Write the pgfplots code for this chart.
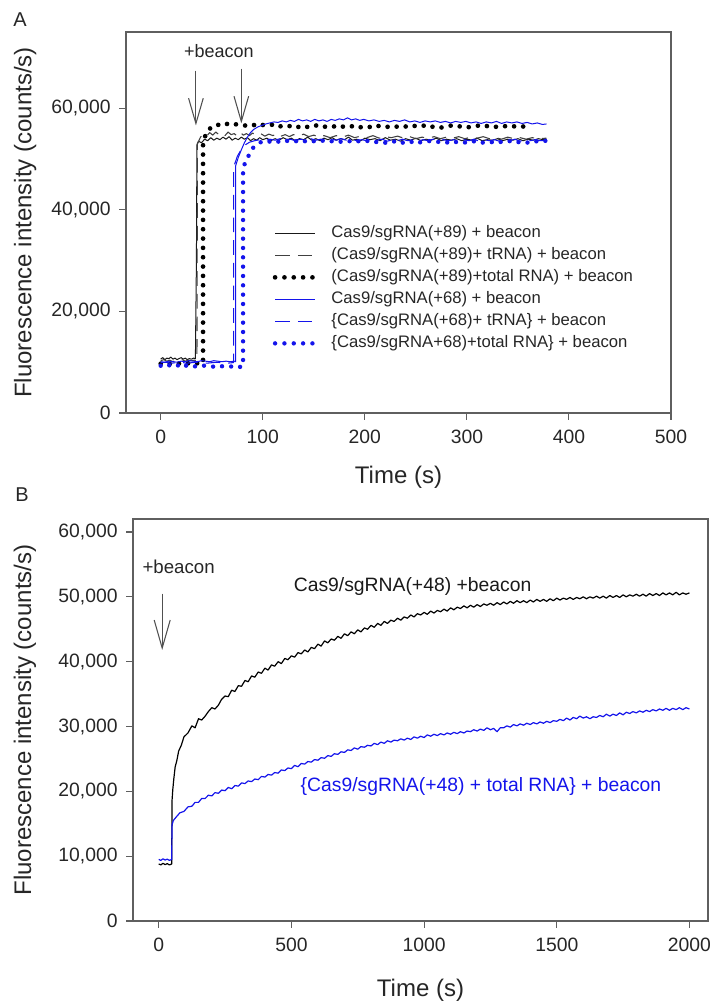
\documentclass[border=0pt]{standalone}
\usepackage{fontspec}
\setmainfont{Liberation Sans}
\usepackage{pgfplots}
\pgfplotsset{compat=1.18}
\usetikzlibrary{arrows.meta}
\definecolor{myblue}{RGB}{20,20,235}
\definecolor{axgray}{RGB}{95,95,95}
\definecolor{arrgray}{RGB}{80,80,80}
\pgfplotsset{
 panel/.style={
  scale only axis,
  axis line style={axgray, line width=0.9pt},
  tick align=outside,
  xtick pos=bottom, ytick pos=left,
  major tick length=5pt,
  tick style={axgray, line width=0.8pt},
  /pgf/number format/assume math mode=true,
  ticklabel style={font=\fontsize{14.5}{16}\selectfont, text=black!85},
  xticklabel style={yshift=-4pt},
  yticklabel style={xshift=-3pt},
  scaled ticks=false,
  label style={font=\fontsize{18}{20}\selectfont, text=black!85},
  every axis plot/.append style={line join=round},
 },
 bigdots/.style={line width=3.5pt, line cap=round, dash pattern=on 0pt off 7pt},
}
\begin{document}
\begin{tikzpicture}
\path[use as bounding box] (0,0) rectangle (537pt,-753.75pt);
\node[font=\fontsize{15}{17}\selectfont, text=black!85] at (20*0.75pt,-20*0.75pt) {A};
\node[font=\fontsize{15}{17}\selectfont, text=black!85] at (22*0.75pt,-495*0.75pt) {B};
% ---------------- Panel A ----------------
\begin{axis}[panel,
  at={(126*0.75pt,-413*0.75pt)}, anchor=south west,
  width=545*0.75pt, height=381*0.75pt,
  xmin=-34, xmax=500, ymin=0, ymax=75000,
  xtick={0,100,200,300,400,500},
  ytick={0,20000,40000,60000},
  yticklabel style={/pgf/number format/1000 sep={,}},
  xlabel={Time (s)}, ylabel={Fluorescence intensity (counts/s)},
  xlabel style={at={(axis description cs:0.5,-0.168)}, anchor=center},
  ylabel style={at={(axis description cs:-0.185,0.5)}, anchor=center},
  legend style={at={(axis cs:109.8,37000)}, anchor=north west, draw=none, fill=none,
    inner sep=0pt, outer sep=0pt,
    font=\fontsize{12.5}{14}\selectfont, row sep=4pt,
    nodes={inner sep=0pt, text height=9.5pt, text depth=3pt, text=black!85},
    /tikz/every odd column/.append style={column sep=10.5pt}},
  legend cell align=left,
  legend image code/.code={\draw[#1] (0pt,0pt) -- (30pt,0pt);},
]
\addplot[black!90, line width=0.75pt] coordinates {
(0,10600)(2,10900)(4,10500)(6,10800)(8,10700)(10,11000)(12,10600)(14,10800)(16,10500)(18,10700)(20,10900)(22,10600)(24,10800)(26,10500)(28,10700)(30,10600)(32,10800)(34,10700)(35,30000)(35.5,52800)(37,53500)(40,53200)(43,53900)(46,53600)(49,54200)(52,53700)(55,54100)(58,53800)(61,54300)(64,53900)(67,54400)(70,53700)(73,54100)(76,53800)(79,54300)(82,53900)(85,54200)(88,53600)(91,54000)(94,53700)(97,54200)(100,53800)(104,54100)(108,53600)(112,54000)(116,53700)(120,54200)(124,53800)(128,54100)(132,53600)(136,54000)(140,53800)(144,54300)(148,53700)(152,54000)(156,53600)(160,54100)(164,53800)(168,54200)(172,53700)(176,54000)(180,53800)(184,54300)(188,53700)(192,53900)(196,53600)(200,54100)(205,53800)(210,54000)(215,53600)(220,54200)(225,53700)(230,53900)(235,53500)(240,54000)(245,53700)(250,54100)(255,53600)(260,53900)(265,53700)(270,54100)(275,53600)(280,53900)(285,53700)(290,54000)(295,53600)(300,53900)(305,53700)(310,54100)(315,53600)(320,53800)(325,53700)(330,54000)(335,53600)(340,53900)(345,53700)(350,54000)(355,53600)(360,53900)(365,53700)(370,54000)(375,53800)(378,53900)};
\addlegendentry{Cas9/sgRNA(+89) + beacon}
\addplot[black!75, line width=0.8pt, dash pattern=on 11pt off 6pt] coordinates {
(0,10300)(3,10500)(6,10200)(9,10400)(12,10100)(15,10400)(18,10300)(21,10500)(24,10200)(27,10400)(30,10300)(33,10400)(35.5,10300)(36,53000)(39,54300)(42,54900)(45,54500)(48,55200)(51,54700)(54,55300)(57,54800)(60,55100)(63,54600)(66,55300)(69,54800)(72,55000)(75,54500)(78,55200)(81,54700)(84,55000)(87,54600)(90,55100)(94,54700)(98,55000)(102,54500)(106,54900)(110,54600)(114,55000)(118,54500)(122,54800)(126,54400)(130,54800)(135,54500)(140,54900)(145,54400)(150,54700)(155,54300)(160,54600)(166,54200)(172,54600)(178,54300)(184,54700)(190,54200)(196,54500)(202,54200)(208,54600)(214,54100)(220,54400)(226,54200)(232,54500)(238,54100)(244,54400)(250,54000)(256,54300)(262,54100)(268,54400)(274,54000)(280,54300)(286,54100)(292,54400)(298,54000)(304,54300)(310,54100)(316,54400)(322,54000)(328,54200)(334,53900)(340,54300)(346,54000)(352,54200)(358,53900)(364,54200)(370,54000)(378,54100)};
\addlegendentry{(Cas9/sgRNA(+89)+ tRNA) + beacon}
\addplot[black, bigdots] coordinates {
(0,9700)(5,9900)(10,9600)(15,9800)(20,9700)(25,9900)(30,9600)(35,9800)(40,9700)(41.5,9800)(41.5,53000)(44,54800)(47,55800)(51,56400)(55,56800)(60,56500)(65,56900)(70,56600)(75,56900)(80,56700)(85,56500)(90,56800)(95,56400)(100,56700)(105,56500)(110,56800)(115,56300)(120,56600)(125,56400)(130,56700)(135,56300)(140,56600)(145,56200)(150,56500)(155,56700)(160,56300)(165,56600)(170,56400)(175,56100)(180,56500)(185,56300)(190,56600)(195,56200)(200,56500)(205,56300)(210,56700)(215,56400)(220,56200)(225,56500)(230,56300)(235,56600)(240,56400)(245,56200)(250,56600)(255,56400)(260,56700)(265,56300)(270,56500)(275,56200)(280,56400)(285,56600)(290,56300)(295,56500)(300,56200)(305,56400)(310,56600)(315,56300)(320,56500)(325,56200)(330,56400)(335,56600)(340,56300)(345,56500)(350,56200)(355,56400)(362,56300)};
\addlegendentry{(Cas9/sgRNA(+89)+total RNA) + beacon}
\addplot[myblue, line width=0.75pt] coordinates {
(0,10100)(4,10000)(8,10200)(12,10100)(16,10000)(20,10200)(24,10100)(28,10300)(32,10200)(36,10100)(40,10300)(44,10200)(48,10100)(52,10300)(56,10200)(60,10100)(64,10200)(68,10100)(72,10200)(73.5,10100)(73.5,48700)(76,50300)(79,51800)(82,53200)(85,54300)(88,55200)(91,55800)(95,56300)(99,56600)(103,56900)(107,57100)(111,57300)(115,57200)(119,57500)(123,57300)(127,57600)(131,57400)(135,57800)(139,57500)(143,57700)(147,57400)(151,57800)(155,57500)(159,57700)(163,57400)(167,57800)(171,57600)(175,57900)(179,57700)(183,58100)(187,57700)(191,57900)(195,57600)(199,57800)(204,57500)(209,57700)(214,57400)(219,57600)(224,57300)(229,57600)(234,57400)(239,57700)(244,57300)(249,57500)(254,57200)(259,57500)(264,57300)(269,57500)(274,57200)(279,57400)(284,57100)(289,57400)(294,57200)(299,57400)(304,57100)(309,57300)(314,57000)(319,57300)(324,57100)(329,57400)(334,57000)(339,57300)(344,57100)(349,57300)(354,57000)(359,57200)(364,56900)(369,57100)(374,56800)(378,56900)};
\addlegendentry{Cas9/sgRNA(+68) + beacon}
\addplot[myblue, line width=0.8pt, dash pattern=on 11pt off 6pt] coordinates {
(0,9900)(5,10000)(10,9800)(15,9900)(20,10000)(25,9800)(30,9900)(35,10000)(40,9900)(45,9800)(50,9900)(55,10000)(60,9900)(65,9800)(70,9900)(71.5,9900)(71.5,48400)(75,50500)(79,51900)(83,52800)(87,53300)(92,53600)(97,53800)(102,53600)(107,53900)(112,53700)(117,54000)(122,53700)(127,53900)(132,53600)(137,53900)(142,53700)(147,54000)(152,53700)(157,53900)(162,53600)(167,53900)(172,53700)(177,54000)(182,53700)(187,53900)(192,53600)(197,53800)(202,53600)(207,53900)(212,53700)(217,53900)(222,53500)(227,53800)(232,53600)(237,53900)(242,53600)(247,53800)(252,53500)(257,53800)(262,53600)(267,53900)(272,53500)(277,53800)(282,53600)(287,53800)(292,53500)(297,53800)(302,53600)(307,53900)(312,53500)(317,53800)(322,53600)(327,53800)(332,53500)(337,53700)(342,53600)(347,53900)(352,53500)(357,53800)(362,53600)(367,53800)(372,53600)(378,53700)};
\addlegendentry{\{Cas9/sgRNA(+68)+ tRNA\} + beacon}
\addplot[myblue, bigdots, line width=3.3pt] coordinates {
(0,9300)(4,9000)(8,9400)(12,9200)(16,9500)(20,8900)(24,9300)(28,9400)(32,9100)(36,9300)(40,9500)(44,9200)(48,9300)(52,9100)(56,9400)(60,9200)(64,9300)(68,9100)(72,9300)(76,9000)(80.7,9200)(80.7,48000)(83,49500)(86,50600)(90,52100)(95,53000)(100,53500)(105,53300)(110,53700)(115,53400)(120,53800)(125,53500)(130,53300)(135,53700)(140,53400)(145,53800)(150,53500)(155,53300)(160,53700)(165,53400)(170,53600)(175,53300)(180,53700)(185,53500)(190,53200)(195,53600)(200,53400)(205,53700)(210,53300)(215,53500)(220,53200)(225,53600)(230,53400)(235,53000)(240,53500)(245,53300)(250,53700)(255,53200)(260,53400)(265,53600)(270,53300)(275,53500)(280,53200)(285,53600)(290,53300)(295,53500)(300,53100)(305,53400)(310,53600)(315,53200)(320,53500)(325,53300)(330,53600)(335,53200)(340,53400)(345,53700)(350,53300)(355,53500)(360,53200)(365,53600)(370,53400)(375,53700)(378,53500)};
\addlegendentry{\{Cas9/sgRNA+68)+total RNA\} + beacon}
\draw[arrgray, line width=0.8pt, -{Straight Barb[length=19pt, width=11pt]}] (axis cs:34.5,67400) -- (axis cs:34.5,56600);
\draw[arrgray, line width=0.8pt, -{Straight Barb[length=19pt, width=11pt]}] (axis cs:79,67800) -- (axis cs:79,57000);
\node[font=\fontsize{13.5}{16}\selectfont, text=black!85] at (axis cs:57,71300) {+beacon};
\end{axis}
% ---------------- Panel B ----------------
\begin{axis}[panel,
  at={(133*0.75pt,-921*0.75pt)}, anchor=south west,
  width=575*0.75pt, height=402*0.75pt,
  xmin=-97, xmax=2070, ymin=0, ymax=62000,
  xtick={0,500,1000,1500,2000},
  ytick={0,10000,20000,30000,40000,50000,60000},
  xticklabel style={/pgf/number format/1000 sep={}},
  yticklabel style={/pgf/number format/1000 sep={,}},
  xlabel={Time (s)}, ylabel={Fluorescence intensity (counts/s)},
  xlabel style={at={(axis description cs:0.5,-0.172)}, anchor=center},
  ylabel style={at={(axis description cs:-0.188,0.5)}, anchor=center},
]
\addplot[black, line width=0.9pt] coordinates {
(0,8800)(8,8650)(16,8900)(24,8700)(32,8850)(40,8650)(49,8800)(50,18500)(53,20300)(57,22000)(62,23800)(68,24700)(75,26200)(85,27100)(95,28400)(110,29000)(125,30100)(137,29800)(150,31200)(162,31000)(175,31600)(187,32300)(200,32900)(212,32700)(225,33300)(237,34200)(250,34700)(262,34600)(275,35600)(287,35400)(300,36300)(312,36200)(325,37100)(337,36900)(350,37800)(362,37600)(375,38400)(387,38200)(400,39000)(412,38700)(425,39500)(437,39300)(450,40000)(462,39700)(475,40500)(487,40300)(500,40900)(512,40700)(525,41400)(537,41200)(550,41800)(562,41500)(575,42200)(587,42000)(600,42700)(612,42400)(625,43200)(637,42900)(650,43500)(662,43300)(675,43900)(687,43600)(700,44300)(712,44000)(725,44600)(737,44300)(750,44900)(762,44600)(775,45200)(787,45000)(800,45600)(812,45300)(825,45900)(837,45600)(850,46200)(862,45900)(875,46400)(887,46200)(900,46700)(912,46400)(925,46900)(937,46700)(950,47200)(962,46900)(975,47400)(987,47200)(1000,47600)(1012,47300)(1025,47800)(1037,47500)(1050,47900)(1062,47700)(1075,48100)(1087,47800)(1100,48300)(1112,48000)(1125,48400)(1137,48200)(1150,48600)(1162,48300)(1175,48700)(1187,48400)(1200,48800)(1212,48500)(1225,48900)(1237,48700)(1250,49000)(1262,48700)(1275,49100)(1287,48800)(1300,49200)(1312,48900)(1325,49300)(1337,49000)(1350,49400)(1362,49100)(1375,49400)(1387,49100)(1400,49500)(1412,49200)(1425,49600)(1437,49300)(1450,49600)(1462,49300)(1475,49700)(1487,49400)(1500,49800)(1512,49500)(1525,49800)(1537,49600)(1550,49900)(1562,49600)(1575,49900)(1587,49700)(1600,50000)(1612,49700)(1625,50000)(1637,49800)(1650,50100)(1662,49800)(1675,50100)(1687,49800)(1700,50200)(1712,49900)(1725,50200)(1737,49900)(1750,50300)(1762,50000)(1775,50300)(1787,50100)(1800,50400)(1812,50100)(1825,50400)(1837,50100)(1850,50500)(1862,50200)(1875,50500)(1887,50200)(1900,50600)(1912,50300)(1925,50600)(1937,50300)(1950,50700)(1962,50300)(1975,50600)(1987,50400)(2000,50600)};
\addplot[myblue, line width=0.9pt] coordinates {
(0,9500)(8,9350)(16,9600)(24,9400)(32,9550)(40,9350)(49,9500)(50,14800)(55,15500)(65,16000)(80,16700)(95,16900)(110,17600)(125,17700)(137,18300)(150,18300)(162,18900)(175,18900)(187,19400)(200,19300)(212,19800)(225,19700)(237,20200)(250,20100)(262,20600)(275,20400)(287,20900)(300,20800)(312,21300)(325,21200)(337,21600)(350,21500)(362,21900)(375,21800)(387,22300)(400,22200)(412,22600)(425,22500)(437,22900)(450,22800)(462,23300)(475,23200)(487,23600)(500,23500)(512,24000)(525,23800)(537,24300)(550,24200)(562,24600)(575,24500)(587,24900)(600,24800)(612,25200)(625,25100)(637,25500)(650,25400)(662,25800)(675,25700)(687,26100)(700,26000)(712,26400)(725,26300)(737,26700)(750,26500)(762,26900)(775,26800)(787,27100)(800,27000)(812,27400)(825,27200)(837,27600)(850,27400)(862,27800)(875,27600)(887,27900)(900,27800)(912,28100)(925,27900)(937,28200)(950,28000)(962,28400)(975,28200)(987,28500)(1000,28300)(1012,28700)(1025,28500)(1037,28800)(1050,28600)(1062,28900)(1075,28700)(1087,29000)(1100,28800)(1112,29100)(1125,28900)(1137,29200)(1150,29000)(1162,29300)(1175,29200)(1187,29500)(1200,29300)(1212,29600)(1225,29400)(1237,29800)(1250,29500)(1262,29700)(1275,29200)(1287,29800)(1300,29800)(1312,30100)(1325,29900)(1337,30300)(1350,30100)(1362,30400)(1375,30200)(1387,30500)(1400,30300)(1412,30600)(1425,30400)(1437,30700)(1450,30500)(1462,30800)(1475,30600)(1487,30900)(1500,30800)(1512,31100)(1525,30900)(1537,31300)(1550,31000)(1562,31400)(1575,31200)(1587,31600)(1600,31300)(1612,31500)(1625,31200)(1637,31500)(1650,31400)(1662,31700)(1675,31500)(1687,31900)(1700,31600)(1712,31900)(1725,31700)(1737,32100)(1750,31800)(1762,32200)(1775,32000)(1787,32300)(1800,32100)(1812,32400)(1825,32200)(1837,32500)(1850,32300)(1862,32600)(1875,32400)(1887,32700)(1900,32500)(1912,32800)(1925,32500)(1937,32800)(1950,32600)(1962,32900)(1975,32600)(1987,32900)(2000,32700)};
\draw[arrgray, line width=0.8pt, -{Straight Barb[length=21pt, width=12pt]}] (axis cs:13,50500) -- (axis cs:13,41800);
\node[font=\fontsize{14}{16}\selectfont, text=black!85] at (axis cs:75,54700) {+beacon};
\node[font=\fontsize{14.5}{17}\selectfont, text=black!90, anchor=west, inner sep=0pt] at (axis cs:508,51540) {Cas9/sgRNA(+48) +beacon};
\node[font=\fontsize{14.5}{17}\selectfont, text=myblue, anchor=west, inner sep=0pt] at (axis cs:534,20680) {\{Cas9/sgRNA(+48) + total RNA\} + beacon};
\end{axis}
\end{tikzpicture}
\end{document}
